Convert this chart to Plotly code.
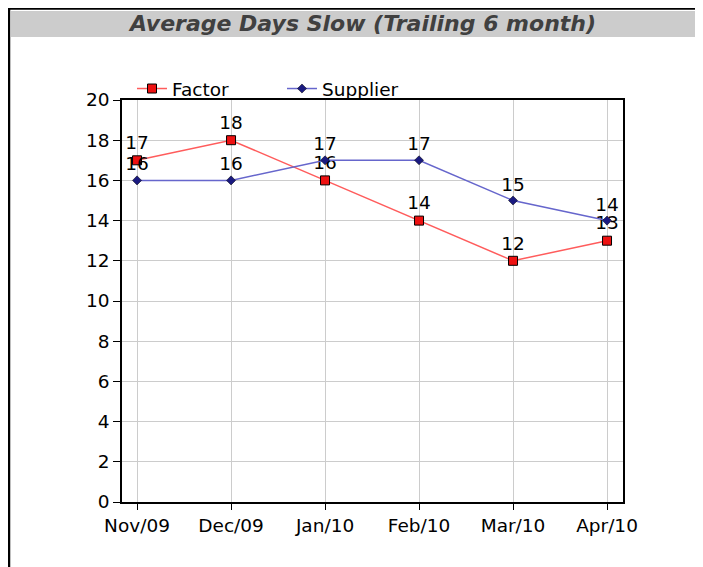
import plotly.graph_objects as go

months = ["Nov/09", "Dec/09", "Jan/10", "Feb/10", "Mar/10", "Apr/10"]
factor = [17, 18, 16, 14, 12, 13]
supplier = [16, 16, 17, 17, 15, 14]
title_text = "Average Days Slow (Trailing 6 month)"

OFF = 8  # page body margin
W, H = 703 - OFF, 567 - OFF
# plot area in page coordinates
L, R, T, B = 122 - OFF, 623 - OFF, 100 - OFF, 502 - OFF

def px_x(p):  # page px -> paper
    return (p - OFF - L) / (R - L)

def px_y(p):
    return (B - (p - OFF)) / (B - T)

FONT = "DejaVu Sans, Liberation Sans, Arial, sans-serif"
FS = 18.5

fig = go.Figure()
fig.add_trace(go.Scatter(
    x=list(range(len(months))), y=factor, name="Factor",
    mode="lines+markers+text", text=[str(v) for v in factor],
    textposition="top center", textfont=dict(size=FS, color="#000"),
    line=dict(color="#ff5c5c", width=1.5),
    marker=dict(symbol="square", size=9, color="#ee1111", line=dict(color="#000", width=1)),
))
fig.add_trace(go.Scatter(
    x=list(range(len(months))), y=supplier, name="Supplier",
    mode="lines+markers+text", text=[str(v) for v in supplier],
    textposition="top center", textfont=dict(size=FS, color="#000"),
    line=dict(color="#6666cc", width=1.5),
    marker=dict(symbol="diamond", size=7, color="#1a1a80", line=dict(color="#000", width=0.5)),
))

shapes = [
    dict(type="rect", xref="paper", yref="paper",
         x0=px_x(11), x1=px_x(703), y0=px_y(37), y1=px_y(11),
         fillcolor="#cccccc", line=dict(width=0), layer="below"),
    dict(type="line", xref="paper", yref="paper",
         x0=px_x(8), x1=px_x(703), y0=px_y(8.5), y1=px_y(8.5),
         line=dict(color="#000", width=2.5)),
    dict(type="line", xref="paper", yref="paper",
         x0=px_x(9), x1=px_x(9), y0=px_y(7), y1=px_y(567),
         line=dict(color="#000", width=2.5)),
]

fig.update_layout(
    width=W, height=H,
    margin=dict(l=L, r=W - R, t=T, b=H - B),
    paper_bgcolor="white", plot_bgcolor="white",
    font=dict(family=FONT, size=FS, color="#000"),
    showlegend=True,
    legend=dict(orientation="h", x=px_x(132), y=px_y(89), xanchor="left", yanchor="middle",
                font=dict(size=FS), bgcolor="rgba(0,0,0,0)", itemwidth=30,
                entrywidth=105, tracegroupgap=0),
    shapes=shapes,
    annotations=[dict(
        text="<b><i>" + title_text + "</i></b>", xref="paper", yref="paper",
        x=px_x(362), y=px_y(24), xanchor="center", yanchor="middle", showarrow=False,
        font=dict(family=FONT, size=22, color="#404040"),
    )],
    xaxis=dict(
        tickmode="array", tickvals=list(range(len(months))), ticktext=months,
        range=[-0.16, 5.17], showgrid=True, gridcolor="#cccccc", gridwidth=1,
        showline=True, linecolor="#000", linewidth=1.5, mirror=True,
        ticks="outside", ticklen=6, tickcolor="#000", zeroline=False,
        tickfont=dict(size=FS),
    ),
    yaxis=dict(
        range=[0, 20], dtick=2, showgrid=True, gridcolor="#cccccc", gridwidth=1,
        showline=True, linecolor="#000", linewidth=1.5, mirror=True,
        ticks="outside", ticklen=7, tickcolor="#000", zeroline=False,
        tickfont=dict(size=FS),
    ),
)

fig.write_html("out.html")
